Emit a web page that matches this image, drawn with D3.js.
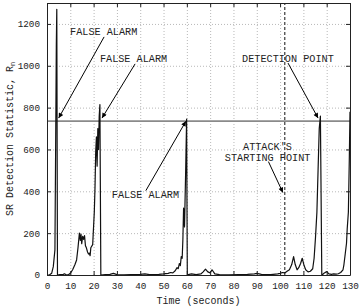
<!DOCTYPE html>
<html>
<head>
<meta charset="utf-8">
<script src="https://cdn.jsdelivr.net/npm/d3@7"></script>
<style>
  body { margin: 0; background: #fff; }
  svg { display: block; font-family: "Liberation Mono", "DejaVu Sans Mono", monospace; }
</style>
</head>
<body>
<div id="chart"></div>
<script>
const w = 360;
const h = 306;

// time (seconds) and SR statistic R_n
const times = [0, 1, 2, 2.7, 3.4, 3.7, 4.0, 4.2, 4.5, 5.5, 7, 7.5, 8, 9.2,
  10, 11, 12, 12.7, 13.3, 13.9, 14.3, 14.6, 14.9, 15.3, 15.7, 16.1, 16.5, 16.9, 17.4, 17.8, 18.2, 18.5, 18.8, 19.6, 20.3, 20.6, 20.9, 21.2, 21.5, 21.8, 22.1, 22.4, 22.7, 23.1,
  24, 25, 27, 28.5, 30, 33, 36, 40, 42, 44, 48, 50, 52, 53, 54,
  55, 55.8, 56.3, 56.8, 57.2, 57.6, 58, 58.3, 58.6, 59.0, 59.5, 59.9, 60.2,
  61, 62, 64, 66, 67, 68, 69, 70, 70.8, 72, 74, 78, 82, 86, 89, 90, 92, 96, 99,
  100, 101, 102, 103, 104, 105, 105.8, 106.5, 107.3, 108, 108.8, 109.5, 110.3, 111, 112, 113, 114, 114.6, 115.2, 115.8, 116.3, 116.8, 117.3, 117.9,
  118.5, 119, 120, 121, 122, 123, 124, 125, 126, 127, 127.4, 128, 128.5, 128.8, 129.3, 129.7, 130];
const values = [0, 0, 8, 40, 120, 600, 1100, 1270, 0, 2, 3, 6, 2, 1,
  8, 25, 50, 72, 130, 200, 165, 195, 150, 185, 170, 188, 140, 130, 110, 100, 104, 92, 130, 145, 303, 420, 590, 660, 520, 700, 600, 760, 815, 0,
  1, 2, 3, 8, 2, 1, 2, 3, 5, 2, 3, 5, 8, 12, 10,
  20, 35, 30, 55, 45, 88, 80, 170, 320, 230, 500, 745, 0,
  3, 5, 2, 5, 15, 28, 15, 10, 25, 5, 2, 1, 2, 3, 5, 8, 3, 2, 5,
  8, 12, 10, 18, 25, 50, 88, 50, 25, 35, 55, 80, 45, 25, 15, 18, 30, 80, 180, 300, 500, 700, 760, 0,
  5, 10, 16, 5, 3, 5, 4, 6, 12, 25, 50, 105, 152, 220, 300, 550, 780, 815];

const xTicks = [0, 10, 20, 30, 40, 50, 60, 70, 80, 90, 100, 110, 120, 130];
const yTicks = [0, 200, 400, 600, 800, 1000, 1200];
const threshold = 735;
const attackStart = 102;

// annotations: label lines, text anchor (t, R) and arrow from / to (t, R)
const labelLines = [["FALSE ALARM"], ["FALSE ALARM"], ["FALSE ALARM"], ["DETECTION POINT"], ["ATTACK'S", "STARTING POINT"]];
const labelAt = [[[9.9, 1145]], [[22.7, 1016]], [[27.8, 368]], [[83.7, 1016]], [[84.1, 598], [76.3, 547]]];
const arrowFrom = [[24.5, 1138], [37.8, 1009], [42.4, 403], [103.4, 1013], [95, 542]];
const arrowTo = [[5.0, 750], [23.6, 750], [59.6, 735], [116.3, 750], [101.2, 394]];

const margin = { top: 3, right: 10, bottom: 31, left: 47 };
const mono = "Liberation Mono, DejaVu Sans Mono, monospace";

const svg = d3.select("#chart").append("svg").attr("width", w).attr("height", h);

const xScale = d3.scaleLinear().domain([0, 130]).range([margin.left, w - margin.right]);
const yScale = d3.scaleLinear().domain([0, 1300]).range([h - margin.bottom, margin.top]);

svg.append("defs").append("marker")
  .attr("id", "head")
  .attr("viewBox", "0 0 10 10")
  .attr("refX", 10).attr("refY", 5)
  .attr("markerWidth", 7).attr("markerHeight", 5)
  .attr("markerUnits", "userSpaceOnUse")
  .attr("orient", "auto")
  .append("path").attr("d", "M0,0 L10,5 L0,10 Z").attr("fill", "#000");

//Grid
svg.append("g")
  .attr("transform", `translate(0, ${h - margin.bottom})`)
  .call(d3.axisBottom(xScale).tickValues(xTicks).tickSize(-(h - margin.top - margin.bottom)).tickFormat(""))
  .call((g) => g.select(".domain").remove())
  .selectAll("line").attr("class", "grid").attr("stroke", "#b8b8b8").attr("stroke-dasharray", "1,2");

svg.append("g")
  .attr("transform", `translate(${margin.left}, 0)`)
  .call(d3.axisLeft(yScale).tickValues(yTicks).tickSize(-(w - margin.left - margin.right)).tickFormat(""))
  .call((g) => g.select(".domain").remove())
  .selectAll("line").attr("class", "grid").attr("stroke", "#b8b8b8").attr("stroke-dasharray", "1,2");

//Threshold and attack start
svg.append("line")
  .attr("x1", xScale(0)).attr("x2", xScale(130))
  .attr("y1", yScale(threshold)).attr("y2", yScale(threshold))
  .attr("stroke", "#8a8a8a").attr("stroke-width", 1.8);

svg.append("line")
  .attr("x1", xScale(attackStart)).attr("x2", xScale(attackStart))
  .attr("y1", yScale(0)).attr("y2", yScale(1300))
  .attr("stroke", "#555").attr("stroke-width", 1.4).attr("stroke-dasharray", "3,2");

//Series
const line = d3.line().x((d) => xScale(d[0])).y((d) => yScale(d[1]));
svg.append("path")
  .datum(times.map((t, i) => [t, values[i]]))
  .attr("d", line)
  .attr("fill", "none")
  .attr("stroke", "#111")
  .attr("stroke-width", 1.2)
  .attr("stroke-linejoin", "round");

//Axes with inward ticks
const tickLen = 4;
const fmt = d3.format("d");
const axes = [
  svg.append("g")
    .attr("transform", `translate(0, ${h - margin.bottom})`)
    .call(d3.axisBottom(xScale).tickValues(xTicks).tickFormat(fmt).tickSize(-tickLen).tickPadding(tickLen + 3).tickSizeOuter(0)),
  svg.append("g")
    .attr("transform", `translate(${margin.left}, 0)`)
    .call(d3.axisLeft(yScale).tickValues(yTicks).tickFormat(fmt).tickSize(-tickLen).tickPadding(tickLen + 3).tickSizeOuter(0)),
  svg.append("g")
    .attr("transform", `translate(0, ${margin.top})`)
    .call(d3.axisTop(xScale).tickValues(xTicks).tickSize(-tickLen).tickFormat("").tickSizeOuter(0)),
  svg.append("g")
    .attr("transform", `translate(${w - margin.right}, 0)`)
    .call(d3.axisRight(yScale).tickValues(yTicks).tickSize(-tickLen).tickFormat("").tickSizeOuter(0))
];
axes.forEach((g) => {
  g.attr("font-family", mono).attr("font-size", 9.3);
  g.select(".domain").attr("stroke", "#222");
  g.selectAll(".tick line").attr("stroke", "#222");
  g.selectAll(".tick text").attr("fill", "#222");
});

//Annotations
labelLines.forEach((lines, i) => {
  lines.forEach((txt, j) => {
    svg.append("text")
      .attr("x", xScale(labelAt[i][j][0]))
      .attr("y", yScale(labelAt[i][j][1]))
      .attr("font-family", mono)
      .attr("font-size", 10.2)
      .attr("fill", "#222")
      .text(txt);
  });
  svg.append("line")
    .attr("x1", xScale(arrowFrom[i][0])).attr("y1", yScale(arrowFrom[i][1]))
    .attr("x2", xScale(arrowTo[i][0])).attr("y2", yScale(arrowTo[i][1]))
    .attr("stroke", "#000").attr("stroke-width", 1)
    .attr("marker-end", "url(#head)");
});

//Axis titles
svg.append("text")
  .attr("x", (margin.left + w - margin.right) / 2)
  .attr("y", h - 2)
  .attr("text-anchor", "middle")
  .attr("font-family", mono)
  .attr("font-size", 10)
  .attr("fill", "#222")
  .text("Time (seconds)");

const yTitle = svg.append("text")
  .attr("transform", `translate(13, ${(margin.top + h - margin.bottom) / 2}) rotate(-90)`)
  .attr("text-anchor", "middle")
  .attr("font-family", mono)
  .attr("font-size", 10)
  .attr("fill", "#222");
yTitle.append("tspan").text("SR Detection Statistic, R");
yTitle.append("tspan").attr("font-size", 7).attr("dy", 2).text("n");
</script>
</body>
</html>
